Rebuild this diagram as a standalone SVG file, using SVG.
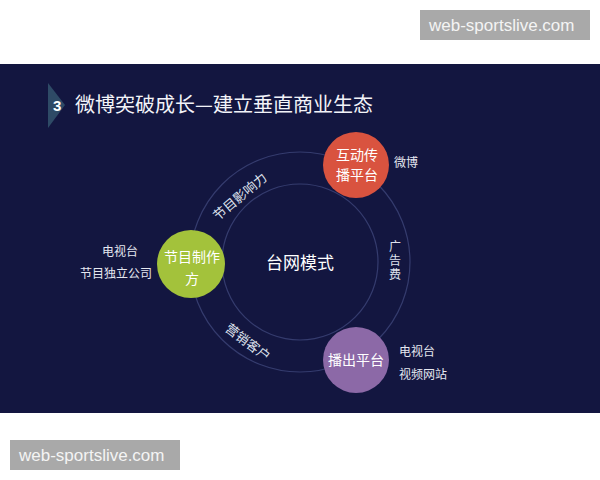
<svg xmlns="http://www.w3.org/2000/svg" width="600" height="480" viewBox="0 0 600 480">
<style>
text{font-family:"Liberation Sans","Noto Sans CJK SC",sans-serif;}
.cjk{font-family:"Noto Sans CJK JP","Noto Sans CJK SC",sans-serif;}
.ring{fill:none;stroke:#353c6e;stroke-width:1.2;}
.nt{fill:#ffffff;font-size:14px;text-anchor:middle;}
.side{fill:#e6e8f0;font-size:12px;}
.arc{fill:#dfe2ee;font-size:13px;text-anchor:middle;}
.varc{fill:#dfe2ee;font-size:12px;text-anchor:middle;}
.wm{fill:#a9a9a9;}
.wmt{fill:#f4f4f4;font-size:17px;}
</style>
<rect x="0" y="0" width="600" height="480" fill="#ffffff"/>
<rect x="0" y="64" width="600" height="349" fill="#131640"/>
<g id="title">
<polygon points="48,83 65,105 48,128" fill="#2e4a66"/>
<text x="53" y="111" font-size="15" font-weight="bold" fill="#ffffff">3</text>
<text class="cjk" x="75" y="112" font-size="20" fill="#f2f3f8">微博突破成长—建立垂直商业生态</text>
</g>
<g id="connectors">
<circle class="ring" cx="300" cy="262" r="110"/>
<circle class="ring" cx="300" cy="262" r="78"/>
<text class="arc" transform="translate(243,200) rotate(-40)">节目影响力</text>
<text class="arc" transform="translate(245,346) rotate(37)">营销客户</text>
<text class="varc" x="395" y="251">广</text>
<text class="varc" x="395" y="265">告</text>
<text class="varc" x="395" y="279">费</text>
</g>
<g id="center">
<text x="300" y="269" font-size="17" fill="#ffffff" text-anchor="middle">台网模式</text>
</g>
<g id="node-interactive">
<circle cx="356" cy="165" r="33" fill="#d9533f"/>
<text class="nt" x="357" y="160">互动传</text>
<text class="nt" x="357" y="180">播平台</text>
<text class="side" x="394" y="167">微博</text>
</g>
<g id="node-producer">
<circle cx="191" cy="264" r="34" fill="#a3c23b"/>
<text class="nt" x="192" y="262">节目制作</text>
<text class="nt" x="192" y="284">方</text>
<text class="side" x="102" y="256">电视台</text>
<text class="side" x="80" y="278">节目独立公司</text>
</g>
<g id="node-broadcast">
<circle cx="356" cy="360" r="33" fill="#8c69a7"/>
<text class="nt" x="356" y="365">播出平台</text>
<text class="side" x="399" y="356">电视台</text>
<text class="side" x="399" y="379">视频网站</text>
</g>
<g id="watermarks">
<rect class="wm" x="420" y="10" width="170" height="30"/>
<text class="wmt" x="429" y="31">web-sportslive.com</text>
<rect class="wm" x="10" y="440" width="170" height="30"/>
<text class="wmt" x="19" y="461">web-sportslive.com</text>
</g>
</svg>
